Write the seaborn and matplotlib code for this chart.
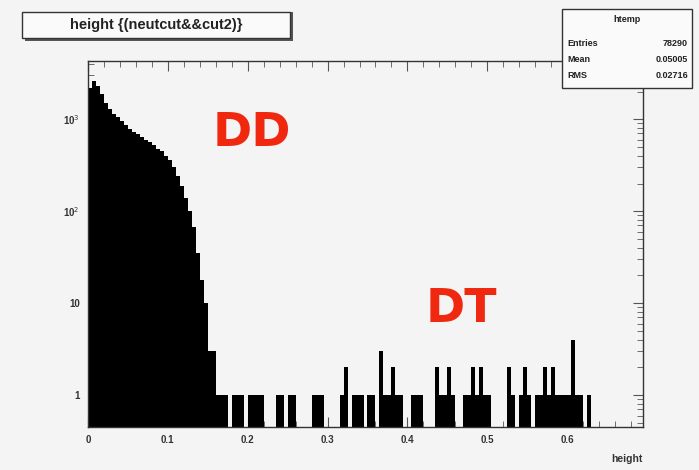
import numpy as np
import pandas as pd
import matplotlib
matplotlib.use("Agg")
import matplotlib.pyplot as plt
import seaborn as sns
from matplotlib.patches import Rectangle
from matplotlib.ticker import FixedLocator, MultipleLocator, LogLocator, NullFormatter

# ---------------- data ----------------
bin_width = 0.005
n_bins = 139
# counts of the first (DD) bins, starting at height = 0
dd_counts = [2200, 2600, 2300, 1900, 1500, 1300, 1150, 1050, 950, 870,
             780, 730, 690, 640, 600, 560, 520, 480, 450, 400,
             360, 300, 240, 190, 140, 100, 67, 35, 18, 10,
             3, 3]
# sparse tail (DT): bin index -> count
tail_bins = [32, 33, 34, 36, 37, 38, 40, 41, 42, 43, 47, 48, 50, 51,
             56, 57, 58, 63, 64, 66, 67, 68, 70, 71, 73, 74, 75, 76, 77, 78,
             81, 82, 83, 87, 88, 89, 90, 91, 94, 95, 96, 97, 98, 99, 100,
             105, 106, 108, 109, 110, 112, 113, 114, 115, 116, 117, 118,
             119, 120, 121, 122, 123, 125]
tail_counts = [1, 1, 1, 1, 1, 1, 1, 1, 1, 1, 1, 1, 1, 1,
               1, 1, 1, 1, 2, 1, 1, 1, 1, 1, 3, 1, 1, 2, 1, 1,
               1, 1, 1, 2, 1, 1, 2, 1, 1, 1, 2, 1, 2, 1, 1,
               2, 1, 1, 2, 1, 1, 1, 2, 1, 2, 1, 1,
               1, 1, 4, 1, 1, 1]

stats_labels = ["Entries", "Mean", "RMS"]
stats_values = ["78290", "0.05005", "0.02716"]
x_tick_values = [0, 0.1, 0.2, 0.3, 0.4, 0.5, 0.6]
x_tick_labels = ["0", "0.1", "0.2", "0.3", "0.4", "0.5", "0.6"]
y_tick_values = [1, 10, 100, 1000]
y_tick_labels = ["1", "10", "10$^{2}$", "10$^{3}$"]

# build histogram table
counts = np.zeros(n_bins)
counts[:len(dd_counts)] = dd_counts
for b, c in zip(tail_bins, tail_counts):
    counts[b] = c
centers = (np.arange(n_bins) + 0.5) * bin_width
df = pd.DataFrame({"height": centers, "n": counts})

# ---------------- figure ----------------
sns.set_style("ticks")
plt.rcParams["font.family"] = ["Liberation Sans", "DejaVu Sans"]
bg = "#f4f4f4"
fig = plt.figure(figsize=(6.99, 4.70), dpi=100, facecolor=bg)
ax = fig.add_axes([88 / 699, 1 - 427 / 470, (643 - 88) / 699, (427 - 61) / 470])
ax.set_facecolor(bg)

sns.histplot(data=df, x="height", weights="n", binwidth=bin_width,
             binrange=(0, n_bins * bin_width), ax=ax,
             color="black", alpha=1, linewidth=0, element="bars")
ax.set_yscale("log")
ax.set_xlim(0, 0.695)
ax.set_ylim(0.45, 4300)

ax.xaxis.set_major_locator(FixedLocator(x_tick_values))
ax.set_xticklabels(x_tick_labels, fontsize=7, fontweight="bold", color="#333333")
ax.xaxis.set_minor_locator(MultipleLocator(0.02))
ax.yaxis.set_major_locator(FixedLocator(y_tick_values))
ax.set_yticklabels(y_tick_labels, fontsize=7, fontweight="bold", color="#333333")
ax.yaxis.set_minor_locator(LogLocator(base=10, subs=np.arange(2, 10)))
ax.yaxis.set_minor_formatter(NullFormatter())
ax.tick_params(which="both", direction="in", top=True, right=True, color="#555555")
ax.tick_params(which="major", length=7, width=0.8, pad=6)
ax.tick_params(which="minor", length=4, width=0.6)
for s in ax.spines.values():
    s.set_color("#333333")
    s.set_linewidth(1.0)
ax.set_ylabel("")
ax.set_xlabel("height", fontsize=7.5, fontweight="bold", color="#333333")
ax.xaxis.set_label_coords(1.0, -0.075)
ax.xaxis.label.set_horizontalalignment("right")

# annotations
ax.text(0.205, 700, "DD", color="#f0280f", fontsize=34, fontweight="bold",
        ha="center", va="center", family="DejaVu Sans")
ax.text(0.467, 8.5, "DT", color="#f0280f", fontsize=34, fontweight="bold",
        ha="center", va="center", family="DejaVu Sans")

# title box
def fx(px):
    return px / 699
def fy(py):
    return 1 - py / 470

fig.patches.append(Rectangle((fx(25), fy(41)), fx(293) - fx(25), fy(12) - fy(41),
                             transform=fig.transFigure, facecolor="#555555",
                             edgecolor="none", zorder=1))
fig.patches.append(Rectangle((fx(22), fy(38)), fx(290) - fx(22), fy(12) - fy(38),
                             transform=fig.transFigure, facecolor="#fafafa",
                             edgecolor="#333333", linewidth=1.0, zorder=2))
fig.text(fx(156), fy(25), "height {(neutcut&&cut2)}", ha="center", va="center",
         fontsize=10.5, fontweight="bold", color="#222222", zorder=3)

# stats box
fig.patches.append(Rectangle((fx(562), fy(88)), fx(692) - fx(562), fy(9) - fy(88),
                             transform=fig.transFigure, facecolor="#fafafa",
                             edgecolor="#333333", linewidth=1.0, zorder=2))
fig.lines.append(plt.Line2D([fx(562), fx(692)], [fy(33), fy(33)],
                            transform=fig.transFigure, color="#333333", linewidth=0.8))
fig.text(fx(627), fy(20), "htemp", ha="center", va="center", fontsize=6.5,
         fontweight="bold", color="#222222")
for i, (lab, val) in enumerate(zip(stats_labels, stats_values)):
    yy = fy(44 + i * 16)
    fig.text(fx(567), yy, lab, ha="left", va="center", fontsize=6.5,
             fontweight="bold", color="#222222")
    fig.text(fx(688), yy, val, ha="right", va="center", fontsize=6.5,
             fontweight="bold", color="#222222")

fig.savefig("out.png", dpi=100, facecolor=bg)
